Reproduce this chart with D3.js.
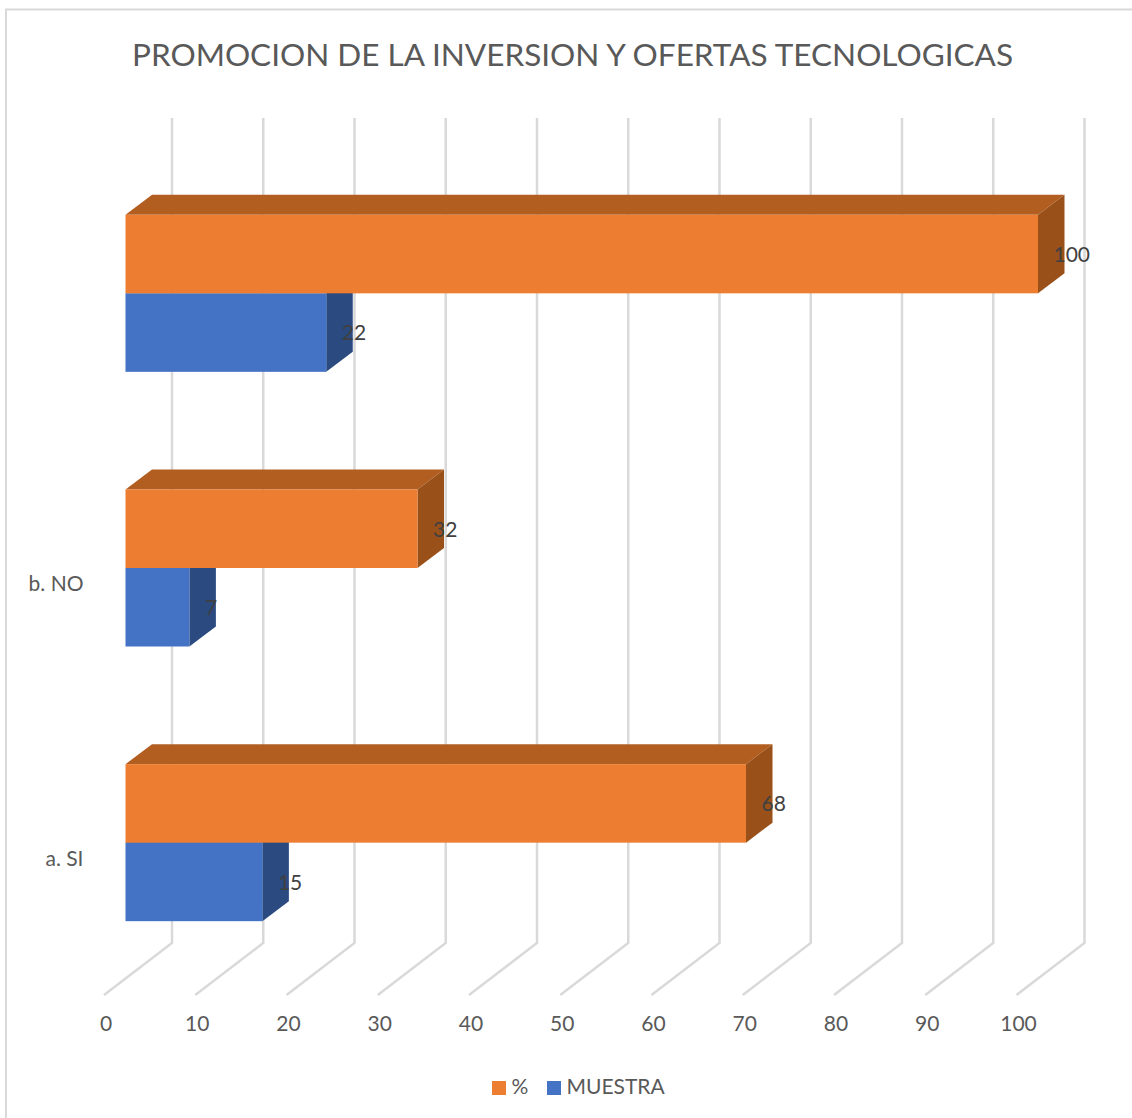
<!DOCTYPE html>
<html>
<head>
<meta charset="utf-8">
<script src="https://cdn.jsdelivr.net/npm/d3@7"></script>
<style>
  html, body { margin: 0; padding: 0; background: #fff; }
  svg { display: block; font-family: Lato, "Open Sans", sans-serif; }
</style>
</head>
<body>
<svg width="1132" height="1118"></svg>
<script>
var categories = ["", "b. NO", "a. SI"];
var seriesNames = ["%", "MUESTRA"];
var percent = [100, 32, 68];
var muestra = [22, 7, 15];
var xTicks = [0, 10, 20, 30, 40, 50, 60, 70, 80, 90, 100];
var title = "PROMOCION DE LA INVERSION Y OFERTAS TECNOLOGICAS";

var svg = d3.select("svg");

// chart frame, only left and top show in the picture
svg.append("path")
  .attr("d", "M6,1118V9.5H1132")
  .attr("fill", "none")
  .attr("stroke", "#d9d9d9")
  .attr("stroke-width", 2);

svg.append("text")
  .attr("x", 572.5)
  .attr("y", 65.5)
  .attr("text-anchor", "middle")
  .attr("font-size", 31.5)
  .attr("fill", "#595959")
  .text(title);

var xScale = d3.scaleLinear().domain([0, 100]).range([125.5, 1038]);
var yScale = d3.scaleBand().domain(categories).range([156, 980]);
var inner = d3.scaleBand().domain(seriesNames).range([-78.5, 78.5]);

// 3d offsets
var depthX = 26.5, depthY = -20;
var wallX = 46.5, floorX = -21.5;
var wallTop = 118, wallBottom = 943, floorBottom = 995;

var grid = svg.append("g")
  .attr("fill", "none")
  .attr("stroke", "#d9d9d9")
  .attr("stroke-width", 2.5);

grid.selectAll("path")
  .data(xTicks)
  .enter()
  .append("path")
  .attr("d", function(d) {
    var x = xScale(d);
    return "M" + (x + wallX) + "," + wallTop +
      "V" + wallBottom +
      "L" + (x + floorX) + "," + floorBottom;
  });

// tick labels through the axis, no lines
var xAxis = d3.axisBottom(xScale).tickValues(xTicks).tickSize(0).tickPadding(0);
var gx = svg.append("g")
  .attr("transform", "translate(-20,1016.5)")
  .call(xAxis);
gx.select(".domain").remove();
gx.selectAll("text")
  .attr("font-family", "Lato")
  .attr("font-size", 21)
  .attr("fill", "#595959");

var yAxis = d3.axisLeft(yScale).tickSize(0).tickPadding(0);
var gy = svg.append("g")
  .attr("transform", "translate(83.5,16.5)")
  .call(yAxis);
gy.select(".domain").remove();
gy.selectAll("text")
  .attr("font-family", "Lato")
  .attr("font-size", 21)
  .attr("fill", "#595959");

function drawBars(name, values, colors) {
  var bars = svg.append("g").selectAll("g")
    .data(values)
    .enter()
    .append("g");

  function top(i) { return yScale(categories[i]) + yScale.bandwidth() / 2 + inner(name); }
  var h = inner.bandwidth();
  var x0 = xScale(0);

  // top face
  bars.append("path")
    .attr("fill", colors.top)
    .attr("d", function(d, i) {
      var y = top(i), x = xScale(d);
      return "M" + x0 + "," + y + "L" + (x0 + depthX) + "," + (y + depthY) +
        "H" + (x + depthX) + "L" + x + "," + y + "Z";
    });

  // side face
  bars.append("path")
    .attr("fill", colors.side)
    .attr("d", function(d, i) {
      var y = top(i), x = xScale(d);
      return "M" + x + "," + y + "L" + (x + depthX) + "," + (y + depthY) +
        "V" + (y + depthY + h) + "L" + x + "," + (y + h) + "Z";
    });

  // front face
  bars.append("rect")
    .attr("fill", colors.front)
    .attr("x", x0)
    .attr("y", function(d, i) { return top(i); })
    .attr("width", function(d) { return xScale(d) - x0; })
    .attr("height", h);
}

// blue first, the orange bar sits over its top face
drawBars("MUESTRA", muestra, { front: "#4472c4", top: "#2f5597", side: "#2a4a80" });
drawBars("%", percent, { front: "#ed7d31", top: "#b35e21", side: "#9a5119" });

function drawLabels(name, values) {
  svg.append("g").selectAll("text")
    .data(values)
    .enter()
    .append("text")
    .attr("x", function(d) { return xScale(d) + 15.5; })
    .attr("y", function(d, i) {
      return yScale(categories[i]) + yScale.bandwidth() / 2 + inner(name) + inner.bandwidth() / 2 + 0.5;
    })
    .attr("dy", "0.35em")
    .attr("font-size", 21)
    .attr("fill", "#404040")
    .text(function(d) { return d; });
}
drawLabels("%", percent);
drawLabels("MUESTRA", muestra);

// legend
var legendColor = d3.scaleOrdinal().domain(seriesNames).range(["#ed7d31", "#4472c4"]);
var legendX = d3.scaleOrdinal().domain(seriesNames).range([492, 547]);
var legend = svg.append("g").selectAll("g")
  .data(seriesNames)
  .enter()
  .append("g")
  .attr("transform", function(d) { return "translate(" + legendX(d) + ",1081)"; });
legend.append("rect")
  .attr("width", 14)
  .attr("height", 14)
  .attr("fill", function(d) { return legendColor(d); });
legend.append("text")
  .attr("x", 19.5)
  .attr("y", 13)
  .attr("font-size", 21)
  .attr("fill", "#595959")
  .text(function(d) { return d; });
</script>
</body>
</html>
